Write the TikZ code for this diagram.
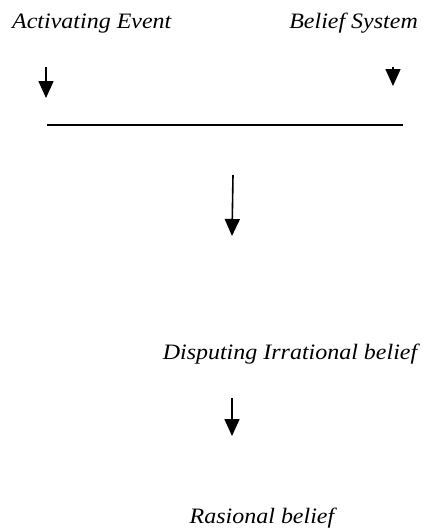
\documentclass[tikz,border=0pt]{standalone}
\usepackage{fontspec}
\usepackage{graphicx}
\setmainfont{Liberation Serif}
\usetikzlibrary{arrows.meta}
\newcommand{\wid}[1]{\scalebox{1.09}[1.0]{#1}}
\begin{document}
\begin{tikzpicture}[x=1pt,y=-1pt,
  lbl/.style={font=\fontsize{22}{26}\selectfont\itshape, inner sep=0pt},
  arr/.style={line width=1.6pt, -{Triangle[length=17pt,width=15pt]}}]
\useasboundingbox (0,0) rectangle (423,531);
\node[lbl, anchor=base west] (ae) at (12,28) {\wid{Activating Event}};
\node[lbl, anchor=base east] (bs) at (418,28) {\wid{Belief System}};
\coordinate (a1s) at (46,67);
\coordinate (a1e) at (46,98);
\coordinate (a2s) at (393,67);
\coordinate (a2e) at (393,86);
\coordinate (ls) at (47,125);
\coordinate (le) at (403,125);
\coordinate (m1s) at (233,175);
\coordinate (m1e) at (232,236);
\node[lbl, anchor=base] (di) at (290,359) {\wid{Disputing Irrational belief}};
\coordinate (m2s) at (232,398);
\coordinate (m2e) at (232,436);
\node[lbl, anchor=base] (rb) at (262,523) {\wid{Rasional belief}};
\draw[arr] (a1s) -- (a1e);
\draw[arr] (a2s) -- (a2e);
\draw[line width=1.8pt] (ls) -- (le);
\draw[arr] (m1s) -- (m1e);
\draw[arr] (m2s) -- (m2e);
\end{tikzpicture}
\end{document}
